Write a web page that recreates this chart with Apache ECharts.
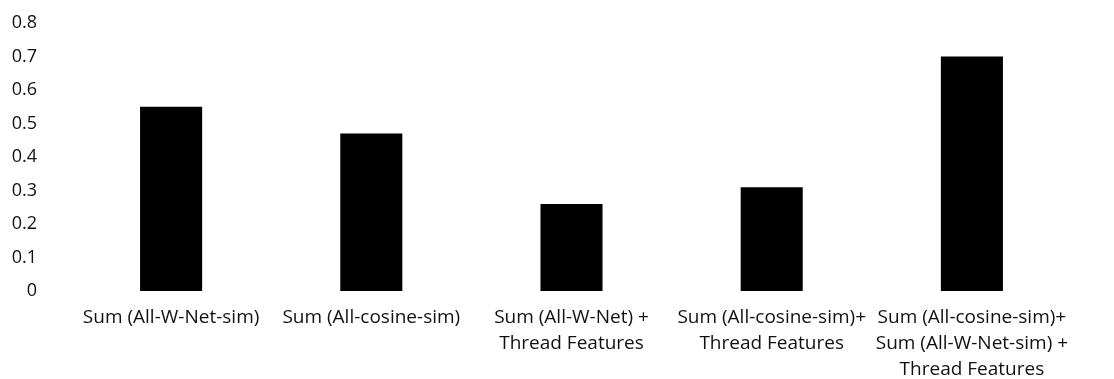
<!DOCTYPE html>
<html>
<head>
<meta charset="utf-8">
<script src="https://cdn.jsdelivr.net/npm/echarts@6/dist/echarts.min.js"></script>
<style>
  html, body { margin: 0; padding: 0; background: #ffffff; }
  #chart { width: 1114px; height: 379px; }
</style>
</head>
<body>
<div id="chart"></div>
<script>
// Feature combinations compared on the x axis
const categories = [
  'Sum (All-W-Net-sim)',
  'Sum (All-cosine-sim)',
  'Sum (All-W-Net) +\nThread Features',
  'Sum (All-cosine-sim)+\nThread Features',
  'Sum (All-cosine-sim)+\nSum (All-W-Net-sim) +\nThread Features'
];
// Score for each combination
const scores = [0.55, 0.47, 0.26, 0.31, 0.70];
// Value axis range and step
const yMin = 0;
const yMax = 0.8;
const yStep = 0.1;

const chart = echarts.init(document.getElementById('chart'), null, { renderer: 'canvas' });
const textFont = '"Open Sans", Lato, sans-serif';

chart.setOption({
  animation: false,
  backgroundColor: '#ffffff',
  grid: {
    left: 71, right: 42, top: 23, bottom: 88,
    containLabel: false,
    outerBoundsMode: 'none'
  },
  xAxis: {
    type: 'category',
    data: categories,
    axisLine: { show: false },
    axisTick: { show: false },
    axisLabel: {
      interval: 0,
      margin: 14,
      color: '#111111',
      fontFamily: textFont,
      fontSize: 19,
      lineHeight: 26,
      align: 'center',
      verticalAlign: 'top'
    }
  },
  yAxis: {
    type: 'value',
    min: yMin,
    max: yMax,
    interval: yStep,
    axisLine: { show: false },
    axisTick: { show: false },
    splitLine: { show: false },
    axisLabel: {
      margin: 34,
      color: '#111111',
      fontFamily: textFont,
      fontSize: 18,
      formatter: v => (Math.round(v * 10) / 10).toString()
    }
  },
  series: [{
    type: 'bar',
    data: scores,
    barWidth: '31%',
    itemStyle: { color: '#000000' }
  }]
});
</script>
</body>
</html>
